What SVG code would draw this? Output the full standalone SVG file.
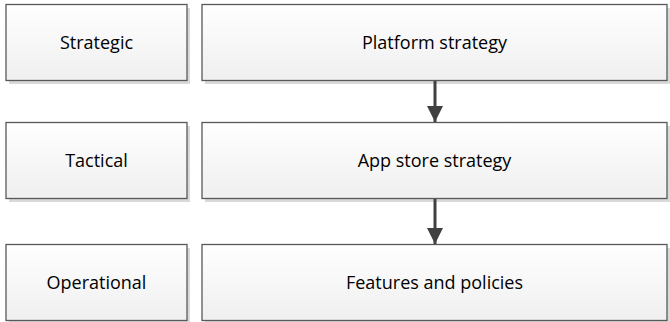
<svg xmlns="http://www.w3.org/2000/svg" width="670" height="322" viewBox="0 0 670 322">
  <defs>
    <linearGradient id="boxFill" x1="0" y1="0" x2="0" y2="1">
      <stop offset="0" stop-color="#ffffff"/>
      <stop offset="1" stop-color="#efefef"/>
    </linearGradient>
    <marker id="arrowHead" markerUnits="userSpaceOnUse" markerWidth="16" markerHeight="17" refX="16" refY="8" orient="auto">
      <path d="M0,0 L16,8 L0,16 Z" fill="#404040"/>
    </marker>
    <style>
      .shadow { fill: #d9d9d9; }
      .box { fill: url(#boxFill); stroke: #595959; stroke-width: 1.3; }
      .label { font-family: "Open Sans", "Liberation Sans", sans-serif; font-size: 18px; fill: #000000; text-anchor: middle; }
      .conn { stroke: #404040; stroke-width: 3; fill: none; }
    </style>
  </defs>

  <g id="strategic">
    <rect class="shadow" x="9" y="8" width="181" height="76"/>
    <rect class="box" x="6" y="4.5" width="181" height="76"/>
    <text class="label" x="96.5" y="48.5">Strategic</text>
  </g>
  <g id="platform-strategy">
    <rect class="shadow" x="205" y="8" width="465" height="76"/>
    <rect class="box" x="202" y="4.5" width="465" height="76"/>
    <text class="label" x="434.5" y="48.5">Platform strategy</text>
  </g>

  <g id="tactical">
    <rect class="shadow" x="9" y="126" width="181" height="76"/>
    <rect class="box" x="6" y="122.5" width="181" height="76"/>
    <text class="label" x="96.5" y="166.5">Tactical</text>
  </g>
  <g id="app-store-strategy">
    <rect class="shadow" x="205" y="126" width="465" height="76"/>
    <rect class="box" x="202" y="122.5" width="465" height="76"/>
    <text class="label" x="434.5" y="166.5">App store strategy</text>
  </g>

  <g id="operational">
    <rect class="shadow" x="9" y="248" width="181" height="76"/>
    <rect class="box" x="6" y="244.5" width="181" height="76"/>
    <text class="label" x="96.5" y="288.5">Operational</text>
  </g>
  <g id="features-and-policies">
    <rect class="shadow" x="205" y="248" width="465" height="76"/>
    <rect class="box" x="202" y="244.5" width="465" height="76"/>
    <text class="label" x="434.5" y="288.5">Features and policies</text>
  </g>

  <g id="connectors">
    <line class="conn" x1="435" y1="81" x2="435" y2="122" marker-end="url(#arrowHead)"/>
    <line class="conn" x1="435" y1="199" x2="435" y2="244" marker-end="url(#arrowHead)"/>
  </g>
</svg>
